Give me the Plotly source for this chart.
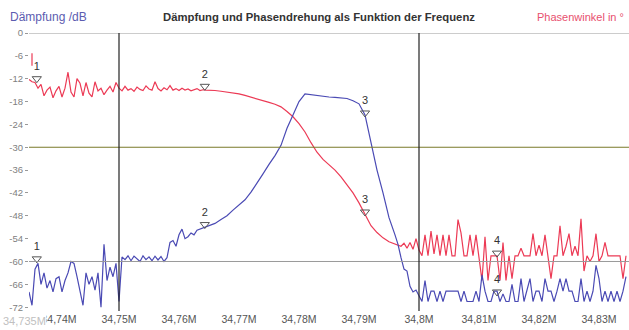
import plotly.graph_objects as go

# ---------------- data (frequency in MHz, values in dB) ----------------
STEP_FINE = 0.0005
STEP_COARSE = 0.001

# red (phase) trace segments: (start frequency, step, values)
red_spike = [-5.3, -8.6]
red_noise_left = [-12.2, -12.8, -13.0, -14.5, -13.5, -16.5, -15.0, -14.2, -17.0, -15.2,
                  -14.0, -16.8, -14.5, -10.3, -15.5, -16.8, -12.0, -13.2, -16.5, -13.0,
                  -15.8, -16.8, -12.8, -15.2, -14.5, -16.2, -15.0, -14.0, -15.5, -13.0, -14.5]
red_flat = [-15.2, -14.0, -15.0, -14.6, -15.3, -14.2, -14.8, -15.1, -13.9, -14.7,
            -15.0, -12.8, -14.6, -15.2, -14.4, -14.9, -13.8, -15.0, -14.6, -15.1,
            -14.5, -15.0, -14.7, -15.2, -14.8, -14.6, -15.1, -14.9, -15.0, -15.0]
red_fall = [-15.1, -15.3, -15.5, -15.7, -16.0, -16.4, -16.8, -17.2, -17.7, -18.2,
            -18.7, -19.4, -20.6, -22.0, -23.8, -26.0, -28.8, -31.3, -33.2, -34.6,
            -36.0, -37.8, -39.8, -42.0, -44.6, -47.6, -50.6, -52.4, -53.8, -54.8, -55.4]
red_transition = [-56.0, -55.2, -56.5, -55.0, -56.8, -54.0, -57.0]
red_noise_right = [-58.5, -53.0, -58.5, -52.0, -58.0, -53.0, -58.5, -53.0, -58.5, -53.0,
                   -58.5, -58.5, -49.0, -52.5, -58.5, -58.5, -53.0, -58.5, -53.0, -58.5,
                   -65.0, -53.5, -65.0, -58.5, -58.5, -58.5, -65.0, -55.0, -65.0, -58.5,
                   -64.5, -58.5, -58.5, -56.5, -58.5, -58.5, -58.5, -52.7, -58.5, -55.7,
                   -58.5, -53.0, -58.5, -64.5, -58.5, -58.5, -50.6, -58.5, -56.0, -52.7,
                   -58.5, -56.0, -58.5, -48.8, -62.5, -58.5, -60.0, -58.5, -52.7, -60.0,
                   -58.5, -55.0, -58.5, -58.5, -58.5, -58.5, -58.5, -64.5, -58.5]

# blue (attenuation) trace segments
blue_noise_left = [-68.0, -71.5, -62.0, -60.5, -66.0, -63.0, -67.0, -65.0, -68.0, -64.5,
                   -64.0, -68.0, -65.0, -63.0, -60.0, -60.5, -64.0, -68.0, -71.5, -63.0,
                   -66.0, -64.0, -67.5, -63.0, -72.0, -55.5, -65.0, -61.5, -64.0, -60.5, -70.5]
blue_low = [-58.8, -59.5, -58.5, -59.8, -58.6, -59.2, -60.0, -58.5, -59.5, -58.8,
            -59.8, -58.6, -59.6, -58.7, -60.0, -59.0, -55.0, -54.5, -56.0, -53.0,
            -51.5, -54.0, -53.5, -52.5, -53.0, -51.8, -51.5, -51.2, -51.0, -50.6]
blue_rise = [-50.0, -49.0, -48.0, -46.5, -45.2, -43.8, -41.8, -39.5, -37.0, -34.5,
             -32.2, -29.5, -25.0, -21.5, -18.0, -16.0, -16.2, -16.5, -16.6, -16.8,
             -16.9, -17.0, -17.2, -17.8, -18.6, -21.5, -29.0, -36.0, -42.0, -48.5, -53.0]
blue_drop = [-55.5, -59.0, -62.0, -62.5, -66.5, -68.0, -67.5, -69.0]
blue_noise_right = [-70.5, -65.0, -70.5, -67.8, -67.8, -70.5, -67.8, -70.5, -67.8, -67.8,
                    -67.8, -67.8, -67.8, -70.5, -67.8, -70.5, -70.5, -70.5, -67.8, -70.5,
                    -63.5, -67.8, -70.5, -70.5, -67.8, -67.8, -70.5, -68.5, -70.5, -70.5,
                    -66.0, -70.5, -70.5, -64.5, -70.5, -67.8, -64.5, -70.5, -67.8, -67.8,
                    -70.5, -64.5, -67.8, -67.8, -70.5, -67.8, -64.5, -67.8, -64.5, -67.8,
                    -67.8, -70.5, -70.5, -64.5, -70.5, -67.8, -70.5, -67.8, -61.0, -64.5,
                    -70.5, -67.8, -70.5, -67.8, -70.5, -67.8, -70.5, -67.8, -64.0]

# markers
marker_labels = ["1", "2", "3", "4"]
marker_freq = [34.7363, 34.7643, 34.7910, 34.8130]
red_marker_vals = [-13.0, -15.0, -48.0, -58.8]
blue_marker_vals = [-60.3, -51.3, -22.0, -69.0]

y_ticks = [0, -6, -12, -18, -24, -30, -36, -42, -48, -54, -60, -66, -72]
x_ticks = [34.74, 34.75, 34.76, 34.77, 34.78, 34.79, 34.80, 34.81, 34.82, 34.83]
x_ticktext = ["34,74M", "34,75M", "34,76M", "34,77M", "34,78M", "34,79M", "34,8M",
              "34,81M", "34,82M", "34,83M"]


def build(segments):
    xs, ys = [], []
    for start, step, vals in segments:
        if start is None:
            xs.append(None); ys.append(None)
            continue
        for i, v in enumerate(vals):
            xs.append(round(start + i * step, 5))
            ys.append(v)
    return xs, ys


red_x, red_y = build([
    (34.7355, 0.0, red_spike),
    (None, None, None),
    (34.7350, STEP_FINE, red_noise_left),
    (34.7505, STEP_FINE, red_flat),
    (34.7660, STEP_COARSE, red_fall),
    (34.7970, STEP_FINE, red_transition),
    (34.8005, STEP_FINE, red_noise_right),
])
blue_x, blue_y = build([
    (34.7350, STEP_FINE, blue_noise_left),
    (34.7505, STEP_FINE, blue_low),
    (34.7660, STEP_COARSE, blue_rise),
    (34.7965, STEP_FINE, blue_drop),
    (34.8005, STEP_FINE, blue_noise_right),
])

RED = "#ec3a55"
BLUE = "#4a4ab4"

fig = go.Figure()

fig.add_trace(go.Scatter(x=red_x, y=red_y, mode="lines", line=dict(color=RED, width=1.2),
                         connectgaps=False, hoverinfo="skip"))
fig.add_trace(go.Scatter(x=blue_x, y=blue_y, mode="lines", line=dict(color=BLUE, width=1.2),
                         hoverinfo="skip"))

for vals in (red_marker_vals, blue_marker_vals):
    fig.add_trace(go.Scatter(
        x=marker_freq, y=[v + 1.0 for v in vals], mode="markers+text",
        marker=dict(symbol="triangle-down-open", size=8, color="#555555", line=dict(width=1)),
        text=marker_labels, textposition="top center",
        textfont=dict(family="Liberation Sans", size=11, color="#333333"),
        hoverinfo="skip"))

# reference lines
fig.add_shape(type="line", xref="paper", x0=0, x1=1, yref="y", y0=0, y1=0,
              line=dict(color="#9a9a9a", width=1))
fig.add_shape(type="line", xref="paper", x0=0, x1=1, yref="y", y0=-60, y1=-60,
              line=dict(color="#9a9a9a", width=1))
fig.add_shape(type="line", xref="paper", x0=0, x1=1, yref="y", y0=-30, y1=-30,
              line=dict(color="#7a7a28", width=1.2))
for xv in (34.75, 34.80):
    fig.add_shape(type="line", xref="x", x0=xv, x1=xv, yref="paper", y0=0, y1=1,
                  line=dict(color="#222222", width=1.2), layer="above")

# texts
fig.add_annotation(text="<b>Dämpfung und Phasendrehung als Funktion der Frequenz</b>",
                   xref="paper", yref="paper", x=0.483, y=1.0, yshift=16,
                   xanchor="center", yanchor="middle", showarrow=False,
                   font=dict(family="Liberation Sans", size=11.3, color="#333333"))
fig.add_annotation(text="Dämpfung /dB", xref="paper", yref="paper", x=0, xshift=-21, y=1.0,
                   yshift=16, xanchor="left", yanchor="middle", showarrow=False,
                   font=dict(family="Liberation Sans", size=12, color="#5c5cb0"))
fig.add_annotation(text="Phasenwinkel in °", xref="paper", yref="paper", x=1, xshift=-3, y=1.0,
                   yshift=16, xanchor="right", yanchor="middle", showarrow=False,
                   font=dict(family="Liberation Sans", size=11, color="#e8506e"))
fig.add_annotation(text="34,735M", xref="paper", yref="paper", x=0, xshift=-27, y=0,
                   yshift=-10, xanchor="left", yanchor="middle", showarrow=False,
                   bgcolor="white", borderpad=0,
                   font=dict(family="Liberation Sans", size=11, color="#c0c0c0"))

fig.update_layout(
    width=629, height=330,
    margin=dict(l=29, r=0, t=33, b=19),
    paper_bgcolor="white", plot_bgcolor="white",
    showlegend=False,
    font=dict(family="Liberation Sans", size=10, color="#666666"),
    xaxis=dict(range=[34.735, 34.835], tickvals=x_ticks, ticktext=x_ticktext,
               showgrid=False, zeroline=False, showline=False, ticks="",
               tickfont=dict(size=10.5, color="#555555"), fixedrange=True),
    yaxis=dict(range=[-73, 0], tickvals=y_ticks, ticktext=[str(v) for v in y_ticks],
               showgrid=False, zeroline=False, showline=False, ticks="outside",
               ticklen=3, tickcolor="#999999",
               tickfont=dict(size=9.5, color="#808080"), fixedrange=True),
)

fig.write_html("out.html")
